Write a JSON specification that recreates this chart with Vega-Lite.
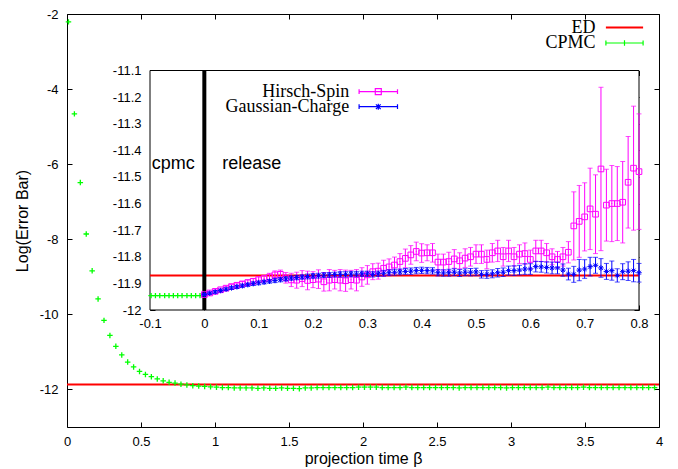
{
 "$schema": "https://vega.github.io/schema/vega-lite/v6.json",
 "width": 592, "height": 413,
 "autosize": {"type": "none"},
 "padding": {"left": 67, "top": 14, "right": 19, "bottom": 42},
 "background": "white",
 "config": {
  "view": {"stroke": "#000", "strokeWidth": 1},
  "axis": {"grid": false, "domain": false, "tickColor": "#000", "tickWidth": 1, "tickSize": 5, "labelColor": "#000", "labelFont": "Liberation Sans", "labelFontSize": 13, "labelFlush": false, "labelOverlap": false, "labelPadding": 9, "titleFont": "Liberation Sans", "titleFontSize": 16, "titleFontWeight": "normal", "titleColor": "#000"},
  "legend": {"orient": "none", "title": null, "labelAlign": "right", "symbolSize": 144, "symbolFillColor": "transparent", "padding": 0, "labelFont": "Liberation Serif", "labelFontSize": 18, "labelColor": "#000", "labelLimit": 300}
 },
 "datasets": {
  "main": [
   {"x":0.01,"y":-2.21},{"x":0.05,"y":-4.66},{"x":0.09,"y":-6.49},{"x":0.13,"y":-7.86},{"x":0.17,"y":-8.84},
   {"x":0.21,"y":-9.59},{"x":0.25,"y":-10.16},{"x":0.29,"y":-10.56},{"x":0.33,"y":-10.85},{"x":0.37,"y":-11.08},
   {"x":0.41,"y":-11.27},{"x":0.45,"y":-11.40},{"x":0.49,"y":-11.52},{"x":0.53,"y":-11.60},{"x":0.57,"y":-11.66},
   {"x":0.61,"y":-11.72},{"x":0.65,"y":-11.77},{"x":0.69,"y":-11.81},{"x":0.73,"y":-11.83},{"x":0.77,"y":-11.86},
   {"x":0.81,"y":-11.88},{"x":0.85,"y":-11.90},{"x":0.89,"y":-11.91},{"x":0.93,"y":-11.92},{"x":0.97,"y":-11.93},
   {"x":1.01,"y":-11.94},{"x":1.05,"y":-11.95},{"x":1.09,"y":-11.95},{"x":1.13,"y":-11.96},{"x":1.17,"y":-11.96},
   {"x":1.21,"y":-11.96},{"x":1.25,"y":-11.96},{"x":1.29,"y":-11.97},{"x":1.33,"y":-11.96},{"x":1.37,"y":-11.97},
   {"x":1.41,"y":-11.97},{"x":1.45,"y":-11.96},{"x":1.49,"y":-11.97},{"x":1.53,"y":-11.97},{"x":1.57,"y":-11.98},
   {"x":1.61,"y":-11.96},{"x":1.65,"y":-11.96},{"x":1.69,"y":-11.95},{"x":1.73,"y":-11.95},{"x":1.77,"y":-11.95},
   {"x":1.81,"y":-11.95},{"x":1.85,"y":-11.95},{"x":1.89,"y":-11.95},{"x":1.93,"y":-11.95},{"x":1.97,"y":-11.94},
   {"x":2.01,"y":-11.94},{"x":2.05,"y":-11.94},{"x":2.09,"y":-11.94},{"x":2.13,"y":-11.95},{"x":2.17,"y":-11.95},
   {"x":2.21,"y":-11.95},{"x":2.25,"y":-11.95},{"x":2.29,"y":-11.94},{"x":2.33,"y":-11.95},{"x":2.37,"y":-11.95},
   {"x":2.41,"y":-11.95},{"x":2.45,"y":-11.95},{"x":2.49,"y":-11.95},{"x":2.53,"y":-11.95},{"x":2.57,"y":-11.95},
   {"x":2.61,"y":-11.95},{"x":2.65,"y":-11.96},{"x":2.69,"y":-11.95},{"x":2.73,"y":-11.95},{"x":2.77,"y":-11.95},
   {"x":2.81,"y":-11.95},{"x":2.85,"y":-11.95},{"x":2.89,"y":-11.95},{"x":2.93,"y":-11.95},{"x":2.97,"y":-11.96},
   {"x":3.01,"y":-11.95},{"x":3.05,"y":-11.95},{"x":3.09,"y":-11.95},{"x":3.13,"y":-11.95},{"x":3.17,"y":-11.95},
   {"x":3.21,"y":-11.95},{"x":3.25,"y":-11.94},{"x":3.29,"y":-11.95},{"x":3.33,"y":-11.95},{"x":3.37,"y":-11.95},
   {"x":3.41,"y":-11.95},{"x":3.45,"y":-11.95},{"x":3.49,"y":-11.94},{"x":3.53,"y":-11.95},{"x":3.57,"y":-11.95},
   {"x":3.61,"y":-11.95},{"x":3.65,"y":-11.95},{"x":3.69,"y":-11.95},{"x":3.73,"y":-11.95},{"x":3.77,"y":-11.95},
   {"x":3.81,"y":-11.95},{"x":3.85,"y":-11.95},{"x":3.89,"y":-11.95},{"x":3.93,"y":-11.95},{"x":3.97,"y":-11.95}
  ],
  "pre": [
   {"x":-0.098,"y":-11.946},{"x":-0.090,"y":-11.946},{"x":-0.082,"y":-11.946},{"x":-0.073,"y":-11.946},
   {"x":-0.065,"y":-11.946},{"x":-0.057,"y":-11.946},{"x":-0.049,"y":-11.946},{"x":-0.041,"y":-11.946},
   {"x":-0.032,"y":-11.946},{"x":-0.024,"y":-11.946},{"x":-0.016,"y":-11.946},{"x":-0.008,"y":-11.946}
  ],
  "spin": [
   {"x":0.00,"v":-11.942,"e":0.004},{"x":0.01,"v":-11.936,"e":0.005},{"x":0.02,"v":-11.930,"e":0.006},{"x":0.03,"v":-11.924,"e":0.006},
   {"x":0.04,"v":-11.918,"e":0.007},{"x":0.05,"v":-11.912,"e":0.008},{"x":0.06,"v":-11.907,"e":0.008},{"x":0.07,"v":-11.902,"e":0.009},
   {"x":0.08,"v":-11.897,"e":0.010},{"x":0.09,"v":-11.892,"e":0.010},{"x":0.10,"v":-11.886,"e":0.011},{"x":0.11,"v":-11.882,"e":0.012},
   {"x":0.12,"v":-11.876,"e":0.014},{"x":0.13,"v":-11.868,"e":0.015},{"x":0.14,"v":-11.866,"e":0.016},{"x":0.15,"v":-11.879,"e":0.020},
   {"x":0.16,"v":-11.887,"e":0.025},{"x":0.17,"v":-11.888,"e":0.030},{"x":0.18,"v":-11.882,"e":0.030},{"x":0.19,"v":-11.889,"e":0.035},
   {"x":0.20,"v":-11.886,"e":0.030},{"x":0.21,"v":-11.884,"e":0.035},{"x":0.22,"v":-11.894,"e":0.035},{"x":0.23,"v":-11.888,"e":0.040},
   {"x":0.24,"v":-11.886,"e":0.035},{"x":0.25,"v":-11.888,"e":0.040},{"x":0.26,"v":-11.890,"e":0.040},{"x":0.27,"v":-11.886,"e":0.035},
   {"x":0.28,"v":-11.888,"e":0.040},{"x":0.29,"v":-11.876,"e":0.035},{"x":0.30,"v":-11.868,"e":0.035},{"x":0.31,"v":-11.856,"e":0.030},
   {"x":0.32,"v":-11.854,"e":0.030},{"x":0.33,"v":-11.843,"e":0.030},{"x":0.34,"v":-11.838,"e":0.030},{"x":0.35,"v":-11.831,"e":0.030},
   {"x":0.36,"v":-11.818,"e":0.030},{"x":0.37,"v":-11.806,"e":0.035},{"x":0.38,"v":-11.793,"e":0.035},{"x":0.39,"v":-11.780,"e":0.035},
   {"x":0.40,"v":-11.786,"e":0.035},{"x":0.41,"v":-11.785,"e":0.030},{"x":0.42,"v":-11.785,"e":0.035},{"x":0.43,"v":-11.820,"e":0.030},
   {"x":0.44,"v":-11.820,"e":0.030},{"x":0.45,"v":-11.818,"e":0.035},{"x":0.46,"v":-11.808,"e":0.035},{"x":0.47,"v":-11.815,"e":0.030},
   {"x":0.48,"v":-11.805,"e":0.035},{"x":0.49,"v":-11.800,"e":0.035},{"x":0.50,"v":-11.790,"e":0.035},{"x":0.51,"v":-11.790,"e":0.035},
   {"x":0.52,"v":-11.810,"e":0.035},{"x":0.53,"v":-11.785,"e":0.035},{"x":0.54,"v":-11.778,"e":0.040},{"x":0.55,"v":-11.800,"e":0.035},
   {"x":0.56,"v":-11.778,"e":0.040},{"x":0.57,"v":-11.800,"e":0.035},{"x":0.58,"v":-11.790,"e":0.035},{"x":0.59,"v":-11.788,"e":0.040},
   {"x":0.60,"v":-11.810,"e":0.035},{"x":0.61,"v":-11.778,"e":0.040},{"x":0.62,"v":-11.778,"e":0.040},{"x":0.63,"v":-11.785,"e":0.035},
   {"x":0.64,"v":-11.800,"e":0.030},{"x":0.65,"v":-11.810,"e":0.030},{"x":0.66,"v":-11.800,"e":0.035},{"x":0.67,"v":-11.783,"e":0.040},
   {"x":0.68,"v":-11.684,"e":0.128},{"x":0.69,"v":-11.667,"e":0.135},{"x":0.70,"v":-11.650,"e":0.128},{"x":0.71,"v":-11.620,"e":0.153},
   {"x":0.72,"v":-11.640,"e":0.148},{"x":0.73,"v":-11.470,"e":0.307},{"x":0.74,"v":-11.606,"e":0.135},{"x":0.75,"v":-11.600,"e":0.143},
   {"x":0.76,"v":-11.600,"e":0.139},{"x":0.77,"v":-11.595,"e":0.153},{"x":0.78,"v":-11.520,"e":0.172},{"x":0.79,"v":-11.467,"e":0.233},
   {"x":0.80,"v":-11.480,"e":0.217}
  ],
  "charge": [
   {"x":0.00,"v":-11.942,"e":0.004},{"x":0.01,"v":-11.937,"e":0.004},{"x":0.02,"v":-11.932,"e":0.005},{"x":0.03,"v":-11.927,"e":0.005},
   {"x":0.04,"v":-11.922,"e":0.005},{"x":0.05,"v":-11.917,"e":0.006},{"x":0.06,"v":-11.913,"e":0.006},{"x":0.07,"v":-11.909,"e":0.006},
   {"x":0.08,"v":-11.905,"e":0.006},{"x":0.09,"v":-11.901,"e":0.007},{"x":0.10,"v":-11.898,"e":0.007},{"x":0.11,"v":-11.895,"e":0.007},
   {"x":0.12,"v":-11.892,"e":0.007},{"x":0.13,"v":-11.889,"e":0.008},{"x":0.14,"v":-11.886,"e":0.008},{"x":0.15,"v":-11.883,"e":0.008},
   {"x":0.16,"v":-11.880,"e":0.008},{"x":0.17,"v":-11.878,"e":0.008},{"x":0.18,"v":-11.876,"e":0.008},{"x":0.19,"v":-11.874,"e":0.009},
   {"x":0.20,"v":-11.872,"e":0.009},{"x":0.21,"v":-11.871,"e":0.009},{"x":0.22,"v":-11.869,"e":0.009},{"x":0.23,"v":-11.868,"e":0.009},
   {"x":0.24,"v":-11.867,"e":0.009},{"x":0.25,"v":-11.866,"e":0.010},{"x":0.26,"v":-11.866,"e":0.010},{"x":0.27,"v":-11.865,"e":0.010},
   {"x":0.28,"v":-11.865,"e":0.010},{"x":0.29,"v":-11.864,"e":0.010},{"x":0.30,"v":-11.864,"e":0.010},{"x":0.31,"v":-11.866,"e":0.010},
   {"x":0.32,"v":-11.864,"e":0.010},{"x":0.33,"v":-11.862,"e":0.011},{"x":0.34,"v":-11.860,"e":0.011},{"x":0.35,"v":-11.858,"e":0.011},
   {"x":0.36,"v":-11.857,"e":0.011},{"x":0.37,"v":-11.855,"e":0.011},{"x":0.38,"v":-11.854,"e":0.012},{"x":0.39,"v":-11.852,"e":0.012},
   {"x":0.40,"v":-11.851,"e":0.012},{"x":0.41,"v":-11.852,"e":0.012},{"x":0.42,"v":-11.853,"e":0.012},{"x":0.43,"v":-11.860,"e":0.012},
   {"x":0.44,"v":-11.861,"e":0.012},{"x":0.45,"v":-11.860,"e":0.013},{"x":0.46,"v":-11.858,"e":0.013},{"x":0.47,"v":-11.861,"e":0.013},
   {"x":0.48,"v":-11.858,"e":0.013},{"x":0.49,"v":-11.858,"e":0.014},{"x":0.50,"v":-11.857,"e":0.014},{"x":0.51,"v":-11.866,"e":0.014},
   {"x":0.52,"v":-11.866,"e":0.015},{"x":0.53,"v":-11.864,"e":0.015},{"x":0.54,"v":-11.860,"e":0.016},{"x":0.55,"v":-11.858,"e":0.016},
   {"x":0.56,"v":-11.852,"e":0.017},{"x":0.57,"v":-11.852,"e":0.018},{"x":0.58,"v":-11.850,"e":0.018},{"x":0.59,"v":-11.846,"e":0.020},
   {"x":0.60,"v":-11.846,"e":0.020},{"x":0.61,"v":-11.837,"e":0.020},{"x":0.62,"v":-11.838,"e":0.020},{"x":0.63,"v":-11.840,"e":0.021},
   {"x":0.64,"v":-11.842,"e":0.022},{"x":0.65,"v":-11.842,"e":0.022},{"x":0.66,"v":-11.850,"e":0.023},{"x":0.67,"v":-11.865,"e":0.022},
   {"x":0.68,"v":-11.866,"e":0.030},{"x":0.69,"v":-11.850,"e":0.040},{"x":0.70,"v":-11.846,"e":0.035},{"x":0.71,"v":-11.837,"e":0.035},
   {"x":0.72,"v":-11.832,"e":0.030},{"x":0.73,"v":-11.842,"e":0.035},{"x":0.74,"v":-11.855,"e":0.030},{"x":0.75,"v":-11.852,"e":0.036},
   {"x":0.76,"v":-11.870,"e":0.025},{"x":0.77,"v":-11.856,"e":0.030},{"x":0.78,"v":-11.854,"e":0.035},{"x":0.79,"v":-11.852,"e":0.042},
   {"x":0.80,"v":-11.860,"e":0.035}
  ]
 },
 "layer": [
  {
   "layer": [
    {
     "data": {"values": [{}]},
     "mark": {"type": "rule", "color": "#ff0000", "strokeWidth": 2},
     "encoding": {
      "y": {"datum": -11.87, "type": "quantitative", "scale": {"domain": [-13, -2], "nice": false, "zero": false},
            "axis": {"orient": "left", "offset": -5, "values": [-12, -10, -8, -6, -4, -2], "labelExpr": "'' + datum.value", "labelPadding": 9,
                     "title": "Log(Error Bar)", "titleX": -45, "titleY": 206.5, "titleAngle": -90, "titleAlign": "center", "titleBaseline": "alphabetic"}}
     }
    },
    {
     "data": {"name": "main"},
     "mark": {"type": "point", "shape": "M-1,0H1M0,-1V1", "size": 30, "filled": false, "color": "#00ff00", "strokeWidth": 1.3, "opacity": 1},
     "encoding": {
      "x": {"field": "x", "type": "quantitative", "scale": {"domain": [0, 4], "nice": false, "zero": false},
            "axis": {"orient": "bottom", "offset": -5, "values": [0, 0.5, 1, 1.5, 2, 2.5, 3, 3.5, 4], "labelExpr": "'' + datum.value", "labelPadding": 8,
                     "title": "projection time β", "titleX": 296, "titleY": 41, "titleAlign": "center", "titleBaseline": "alphabetic"}},
      "y": {"field": "y", "type": "quantitative", "axis": {"orient": "right", "offset": -5, "values": [-12, -10, -8, -6, -4, -2], "labels": false, "title": null}}
     }
    },
    {
     "data": {"values": [{"series": "ED"}]},
     "mark": {"type": "point", "filled": false, "size": 144, "strokeWidth": 2, "opacity": 1},
     "encoding": {
      "x": {"field": "x", "type": "quantitative", "axis": {"orient": "top", "offset": -5, "values": [0, 0.5, 1, 1.5, 2, 2.5, 3, 3.5, 4], "labels": false, "title": null}},
      "y": {"field": "y", "type": "quantitative", "axis": null},
      "color": {"field": "series", "type": "nominal", "scale": {"domain": ["ED"], "range": ["#ff0000"]},
                "legend": {"legendX": 515, "legendY": 4.5, "labelOffset": -38, "symbolOffset": 33.5, "symbolStrokeWidth": 2}},
      "shape": {"field": "series", "type": "nominal", "scale": {"domain": ["ED"], "range": ["M-3.1,0H3.1"]}}
     }
    },
    {
     "data": {"values": [{"series": "CPMC"}]},
     "mark": {"type": "point", "filled": false, "size": 144, "strokeWidth": 1.2, "opacity": 1},
     "encoding": {
      "x": {"field": "x", "type": "quantitative", "axis": null},
      "y": {"field": "y", "type": "quantitative", "axis": null},
      "color": {"field": "series", "type": "nominal", "scale": {"domain": ["CPMC"], "range": ["#00ff00"]},
                "legend": {"legendX": 515, "legendY": 20, "labelOffset": -38, "symbolOffset": 33.5, "symbolStrokeWidth": 1.2}},
      "shape": {"field": "series", "type": "nominal", "scale": {"domain": ["CPMC"], "range": ["M-3.1,0H3.1M-3.1,-0.4V0.4M3.1,-0.4V0.4M0,-0.45V0.45"]}}
     }
    }
   ],
   "resolve": {"scale": {"color": "independent", "shape": "independent"}, "axis": {"x": "independent", "y": "independent"}}
  },
  {
   "layer": [
    {
     "data": {"values": [{}]},
     "mark": {"type": "rect", "fill": "#ffffff", "stroke": "#000000", "strokeWidth": 1},
     "encoding": {
      "x": {"datum": -0.1, "type": "quantitative", "scale": {"domain": [-0.1, 0.8], "range": [83, 572], "nice": false, "zero": false},
            "axis": {"orient": "bottom", "offset": -122, "values": [-0.1, 0, 0.1, 0.2, 0.3, 0.4, 0.5, 0.6, 0.7, 0.8], "labelExpr": "'' + datum.value", "labelPadding": 7, "title": null}},
      "x2": {"datum": 0.8},
      "y": {"datum": -12, "type": "quantitative", "scale": {"domain": [-12, -11.1], "range": [296, 56.5], "nice": false, "zero": false},
            "axis": {"orient": "left", "offset": -88, "values": [-12, -11.9, -11.8, -11.7, -11.6, -11.5, -11.4, -11.3, -11.2, -11.1], "labelExpr": "'' + datum.value", "labelPadding": 9, "title": null}},
      "y2": {"datum": -11.1}
     }
    },
    {
     "data": {"values": [{}]},
     "mark": {"type": "rule", "color": "#ff0000", "strokeWidth": 2},
     "encoding": {
      "x": {"datum": -0.1, "type": "quantitative", "axis": {"orient": "top", "offset": -61.5, "values": [-0.1, 0, 0.1, 0.2, 0.3, 0.4, 0.5, 0.6, 0.7, 0.8], "labels": false, "title": null}},
      "x2": {"datum": 0.8},
      "y": {"datum": -11.87, "type": "quantitative", "axis": {"orient": "right", "offset": -25, "values": [-12, -11.9, -11.8, -11.7, -11.6, -11.5, -11.4, -11.3, -11.2, -11.1], "labels": false, "title": null}}
     }
    },
    {
     "data": {"values": [{}]},
     "mark": {"type": "rule", "color": "#000000", "strokeWidth": 4},
     "encoding": {
      "x": {"datum": 0, "type": "quantitative", "axis": null},
      "y": {"datum": -12, "type": "quantitative", "axis": null},
      "y2": {"datum": -11.1}
     }
    },
    {
     "data": {"name": "pre"},
     "mark": {"type": "point", "shape": "M-1,0H1M0,-1V1", "size": 30, "filled": false, "color": "#00ff00", "strokeWidth": 1.3, "opacity": 1},
     "encoding": {
      "x": {"field": "x", "type": "quantitative", "axis": null},
      "y": {"field": "y", "type": "quantitative", "axis": null}
     }
    },
    {
     "data": {"name": "spin"},
     "mark": {"type": "errorbar", "color": "#ff00ff", "ticks": {"size": 5, "thickness": 1}, "rule": {"strokeWidth": 1}},
     "encoding": {
      "x": {"field": "x", "type": "quantitative", "axis": null},
      "y": {"field": "v", "type": "quantitative", "axis": null},
      "yError": {"field": "e"}
     }
    },
    {
     "data": {"name": "spin"},
     "mark": {"type": "point", "shape": "M-1,-1H1V1H-1ZM-0.15,0H0.15", "size": 32, "filled": false, "color": "#ff00ff", "strokeWidth": 1, "opacity": 1},
     "encoding": {
      "x": {"field": "x", "type": "quantitative", "axis": null},
      "y": {"field": "v", "type": "quantitative", "axis": null}
     }
    },
    {
     "data": {"name": "charge"},
     "mark": {"type": "errorbar", "color": "#0000ff", "ticks": {"size": 5, "thickness": 1}, "rule": {"strokeWidth": 1}},
     "encoding": {
      "x": {"field": "x", "type": "quantitative", "axis": null},
      "y": {"field": "v", "type": "quantitative", "axis": null},
      "yError": {"field": "e"}
     }
    },
    {
     "data": {"name": "charge"},
     "mark": {"type": "point", "shape": "M-1,0H1M0,-1V1M-0.7,-0.7L0.7,0.7M-0.7,0.7L0.7,-0.7", "size": 30, "filled": false, "color": "#0000ff", "strokeWidth": 1, "opacity": 1},
     "encoding": {
      "x": {"field": "x", "type": "quantitative", "axis": null},
      "y": {"field": "v", "type": "quantitative", "axis": null}
     }
    },
    {
     "data": {"values": [{"label": "cpmc", "x": -0.097, "y": -11.47}, {"label": "release", "x": 0.033, "y": -11.47}]},
     "mark": {"type": "text", "align": "left", "baseline": "alphabetic", "font": "Liberation Sans", "fontSize": 18, "color": "#000"},
     "encoding": {
      "x": {"field": "x", "type": "quantitative", "axis": null},
      "y": {"field": "y", "type": "quantitative", "axis": null},
      "text": {"field": "label"}
     }
    },
    {
     "data": {"values": [{"series": "Hirsch-Spin"}]},
     "mark": {"type": "point", "filled": false, "size": 144, "strokeWidth": 1.2, "opacity": 1},
     "encoding": {
      "x": {"field": "x", "type": "quantitative", "axis": null},
      "y": {"field": "y", "type": "quantitative", "axis": null},
      "color": {"field": "series", "type": "nominal", "scale": {"domain": ["Hirsch-Spin"], "range": ["#ff00ff"]},
                "legend": {"legendX": 268.7, "legendY": 68.7, "labelOffset": -38.1, "symbolOffset": 33.6, "symbolStrokeWidth": 1.2}},
      "shape": {"field": "series", "type": "nominal", "scale": {"domain": ["Hirsch-Spin"], "range": ["M-3.2,0H3.2M-3.2,-0.4V0.4M3.2,-0.4V0.4M-0.5,-0.5H0.5V0.5H-0.5Z"]}}
     }
    },
    {
     "data": {"values": [{"series": "Gaussian-Charge"}]},
     "mark": {"type": "point", "filled": false, "size": 144, "strokeWidth": 1.2, "opacity": 1},
     "encoding": {
      "x": {"field": "x", "type": "quantitative", "axis": null},
      "y": {"field": "y", "type": "quantitative", "axis": null},
      "color": {"field": "series", "type": "nominal", "scale": {"domain": ["Gaussian-Charge"], "range": ["#0000ff"]},
                "legend": {"legendX": 268.7, "legendY": 83.7, "labelOffset": -38.1, "symbolOffset": 33.6, "symbolStrokeWidth": 1.2}},
      "shape": {"field": "series", "type": "nominal", "scale": {"domain": ["Gaussian-Charge"], "range": ["M-3.2,0H3.2M-3.2,-0.4V0.4M3.2,-0.4V0.4M0,-0.5V0.5M-0.4,-0.4L0.4,0.4M-0.4,0.4L0.4,-0.4"]}}
     }
    }
   ],
   "resolve": {"scale": {"color": "independent", "shape": "independent"}, "axis": {"x": "independent", "y": "independent"}}
  }
 ],
 "resolve": {
  "scale": {"x": "independent", "y": "independent", "color": "independent", "shape": "independent"},
  "axis": {"x": "independent", "y": "independent"}
 }
}
